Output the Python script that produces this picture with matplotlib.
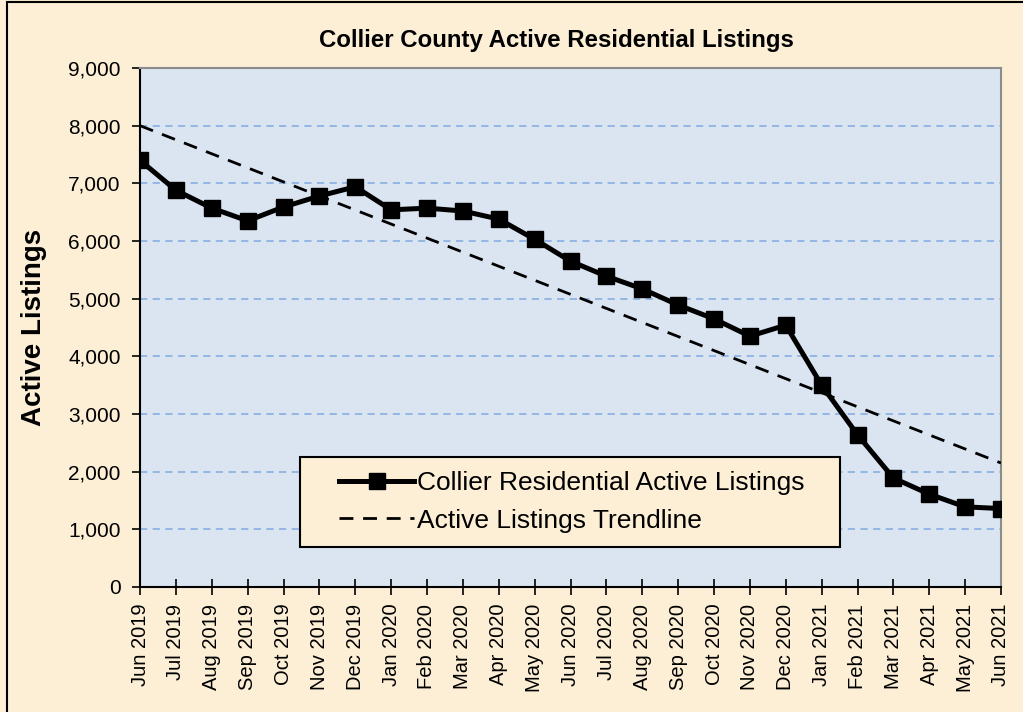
import numpy as np
import matplotlib
matplotlib.use("Agg")
import matplotlib.pyplot as plt
from matplotlib.ticker import FuncFormatter, MultipleLocator
from matplotlib.patches import Rectangle

plt.rcParams['font.family'] = ['Liberation Sans', 'DejaVu Sans']

# data
months = ["Jun 2019", "Jul 2019", "Aug 2019", "Sep 2019", "Oct 2019", "Nov 2019",
          "Dec 2019", "Jan 2020", "Feb 2020", "Mar 2020", "Apr 2020", "May 2020",
          "Jun 2020", "Jul 2020", "Aug 2020", "Sep 2020", "Oct 2020", "Nov 2020",
          "Dec 2020", "Jan 2021", "Feb 2021", "Mar 2021", "Apr 2021", "May 2021",
          "Jun 2021"]
listings = [7400, 6880, 6570, 6350, 6590, 6780, 6940, 6540, 6570, 6520, 6380, 6030,
            5650, 5390, 5170, 4890, 4650, 4350, 4540, 3500, 2640, 1890, 1610, 1390,
            1360]
# trendline end values (Jun 2019, Jun 2021)
trend_ends = [8000, 2150]

bg = "#FCEFD6"
fig = plt.figure(figsize=(10.23, 7.12), dpi=100, facecolor=bg)
ax = fig.add_axes([140/1023, 1 - 587/712, 861/1023, 519/712])
ax.set_facecolor("#DBE5F1")

x = np.arange(len(months))
ax.plot([x[0], x[-1]], trend_ends, color="black", lw=2.0, ls=(0, (5, 3.5)),
        label="Active Listings Trendline", zorder=3)
ax.plot(x, listings, color="black", lw=3.6, marker="s", ms=11,
        label="Collier Residential Active Listings", zorder=4)

ax.set_xlim(0, len(months) - 1)
ax.set_ylim(0, 9000)
ax.yaxis.set_major_locator(MultipleLocator(1000))
ax.yaxis.set_major_formatter(FuncFormatter(lambda v, p: f"{int(v):,}"))
ax.set_xticks(x)
ax.set_xticklabels(months, rotation=90, fontsize=14.5)
ax.tick_params(axis="y", labelsize=15, direction="out", length=6, width=1.2, pad=8)
ax.tick_params(axis="x", direction="inout", length=12, width=1.2, pad=6)

ax.grid(axis="y", color="#8DB4E2", ls=(0, (4, 3)), lw=1.3)
ax.set_axisbelow(True)
for s in ["top", "right"]:
    ax.spines[s].set_color("#8C8C8C")
    ax.spines[s].set_linewidth(1.5)
for s in ["left", "bottom"]:
    ax.spines[s].set_color("black")
    ax.spines[s].set_linewidth(1.5)

ax.set_ylabel("Active Listings", fontsize=20, fontweight="bold", labelpad=15)

fig.text(556/1023, 1 - 40/712, "Collier County Active Residential Listings",
         ha="center", va="center", fontsize=17.3, fontweight="bold")

# legend box drawn separately so its padding matches
ax.add_patch(Rectangle(((300 - 140) / 861, (587 - 547) / 519), 540 / 861, 90 / 519,
                       transform=ax.transAxes, facecolor=bg, edgecolor="black",
                       lw=1.5, zorder=5))
h, l = ax.get_legend_handles_labels()
leg = ax.legend(h[::-1], l[::-1], loc="center left",
                bbox_to_anchor=((339 - 140) / 861, (587 - 502) / 519),
                fontsize=19, frameon=False, handlelength=2.85, handletextpad=0.12,
                borderpad=0, labelspacing=0.5, borderaxespad=0)
leg.set_zorder(6)

fig.patches.append(Rectangle((7/1023, -0.01), 1.0, 1 - 2/712 + 0.01,
                             transform=fig.transFigure, fill=False,
                             edgecolor="black", lw=1.5))

fig.savefig("out.png", dpi=100, facecolor=bg)
